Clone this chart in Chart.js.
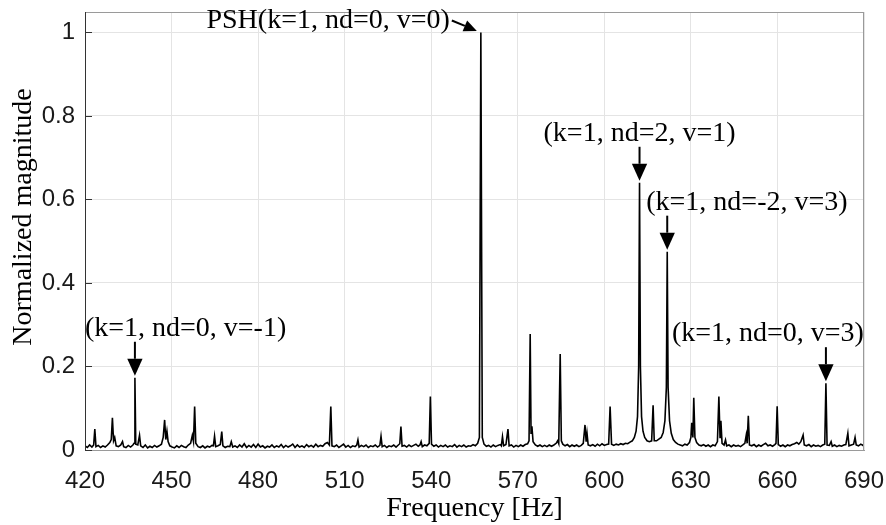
<!DOCTYPE html>
<html>
<head>
<meta charset="utf-8">
<script src="https://cdn.jsdelivr.net/npm/chart.js@4.4.1/dist/chart.umd.min.js"></script>
<style>
  html, body { margin: 0; padding: 0; background: #fff; }
</style>
</head>
<body>
<canvas id="spectrum" width="886" height="525"></canvas>
<script>
// spectrum: [frequency Hz, normalized magnitude]
const spectrum = [
  [420.0,0.010],[420.8,0.006],[421.6,0.012],[422.4,0.007],[423.0,0.012],[423.4,0.050],[423.8,0.008],[424.6,0.011],
  [425.4,0.006],[426.2,0.010],[427.0,0.007],[427.8,0.012],[428.6,0.018],[429.1,0.025],[429.5,0.077],[429.9,0.022],
  [430.3,0.030],[430.8,0.010],[431.6,0.008],[432.4,0.012],[433.0,0.020],[433.4,0.008],[434.2,0.006],[435.0,0.011],
  [435.8,0.007],[436.6,0.012],[437.0,0.016],[437.3,0.173],[437.6,0.014],[438.3,0.012],[438.9,0.035],[439.3,0.010],
  [440.1,0.006],[440.9,0.012],[441.7,0.005],[442.5,0.009],[443.3,0.006],[444.1,0.011],[444.9,0.007],[445.7,0.010],
  [446.5,0.014],[447.1,0.030],[447.6,0.072],[448.0,0.025],[448.4,0.045],[448.8,0.020],[449.4,0.010],[450.2,0.007],
  [451.0,0.005],[451.8,0.010],[452.6,0.006],[453.4,0.011],[454.2,0.008],[455.0,0.006],[455.8,0.012],[456.6,0.016],
  [457.2,0.035],[457.6,0.020],[458.0,0.104],[458.4,0.016],[459.2,0.008],[460.0,0.006],[460.8,0.010],[461.6,0.005],
  [462.4,0.009],[463.2,0.007],[464.0,0.011],[464.5,0.010],[464.9,0.033],[465.3,0.008],[466.1,0.010],[466.9,0.013],
  [467.4,0.044],[467.8,0.010],[468.6,0.006],[469.4,0.009],[470.2,0.008],[470.7,0.020],[471.2,0.007],[472.0,0.010],
  [472.8,0.006],[473.6,0.012],[474.4,0.007],[475.2,0.015],[476.0,0.006],[476.8,0.011],[477.6,0.007],[478.4,0.013],
  [479.2,0.006],[480.0,0.014],[480.8,0.007],[481.6,0.010],[482.4,0.005],[483.2,0.009],[484.0,0.007],[484.8,0.012],
  [485.6,0.006],[486.4,0.010],[487.2,0.007],[488.0,0.013],[488.8,0.006],[489.6,0.011],[490.4,0.007],[491.2,0.010],
  [492.0,0.014],[492.8,0.006],[493.6,0.012],[494.4,0.007],[495.2,0.010],[496.0,0.006],[496.8,0.013],[497.6,0.008],
  [498.4,0.011],[499.2,0.007],[500.0,0.014],[500.8,0.008],[501.6,0.011],[502.4,0.009],[503.2,0.015],[504.0,0.018],
  [504.7,0.012],[505.2,0.104],[505.6,0.010],[506.4,0.008],[507.2,0.012],[508.0,0.006],[508.8,0.010],[509.6,0.014],
  [510.4,0.007],[511.2,0.011],[512.0,0.006],[512.8,0.010],[513.6,0.008],[514.2,0.012],[514.6,0.024],[515.0,0.007],
  [515.8,0.011],[516.6,0.008],[517.4,0.012],[518.2,0.006],[519.0,0.010],[519.8,0.008],[520.6,0.012],[521.4,0.007],
  [522.2,0.011],[522.6,0.033],[523.0,0.008],[523.8,0.011],[524.6,0.006],[525.4,0.010],[526.2,0.008],[527.0,0.012],
  [527.8,0.007],[528.6,0.012],[529.1,0.015],[529.5,0.056],[529.9,0.009],[530.7,0.011],[531.5,0.007],[532.3,0.012],
  [533.1,0.008],[533.9,0.011],[534.7,0.014],[535.5,0.009],[536.1,0.012],[536.5,0.020],[536.9,0.008],[537.7,0.012],
  [538.5,0.010],[539.3,0.016],[539.7,0.128],[540.1,0.014],[540.9,0.009],[541.7,0.012],[542.5,0.007],[543.3,0.011],
  [544.1,0.008],[544.9,0.012],[545.7,0.007],[546.5,0.010],[547.3,0.008],[548.1,0.013],[548.9,0.007],[549.7,0.011],
  [550.5,0.008],[551.3,0.012],[552.1,0.007],[552.9,0.010],[553.7,0.009],[554.5,0.013],[555.3,0.010],[556.1,0.016],
  [556.7,0.030],[557.2,1.000],[557.7,0.030],[558.3,0.014],[559.1,0.009],[559.9,0.011],[560.7,0.007],[561.5,0.012],
  [562.3,0.008],[563.1,0.011],[563.9,0.013],[564.3,0.010],[564.7,0.032],[565.1,0.010],[565.9,0.013],[566.6,0.050],
  [567.0,0.010],[567.8,0.012],[568.6,0.007],[569.4,0.011],[570.2,0.008],[571.0,0.012],[571.8,0.009],[572.6,0.013],
  [573.4,0.015],[573.9,0.022],[574.3,0.278],[574.6,0.040],[574.9,0.057],[575.3,0.020],[576.1,0.012],[576.9,0.009],
  [577.7,0.012],[578.5,0.008],[579.3,0.011],[580.1,0.008],[580.9,0.012],[581.7,0.009],[582.5,0.012],[583.3,0.016],
  [583.8,0.022],[584.2,0.015],[584.7,0.230],[585.1,0.022],[585.6,0.014],[586.4,0.010],[587.2,0.013],[588.0,0.008],
  [588.8,0.012],[589.6,0.009],[590.4,0.012],[591.2,0.008],[592.0,0.011],[592.7,0.016],[593.3,0.060],[593.7,0.020],
  [594.0,0.040],[594.4,0.012],[595.2,0.010],[596.0,0.013],[596.8,0.009],[597.6,0.014],[598.4,0.010],[599.2,0.015],
  [600.0,0.011],[600.8,0.013],[601.5,0.014],[602.0,0.104],[602.5,0.014],[603.3,0.011],[604.1,0.014],[604.9,0.012],
  [605.7,0.015],[606.5,0.013],[607.3,0.016],[608.1,0.015],[608.9,0.019],[609.7,0.022],[610.4,0.030],[611.0,0.045],
  [611.5,0.080],[611.9,0.200],[612.2,0.640],[612.5,0.200],[612.9,0.080],[613.4,0.045],[614.0,0.030],[614.8,0.022],
  [615.6,0.020],[616.4,0.022],[616.9,0.107],[617.3,0.022],[618.1,0.022],[618.9,0.026],[619.7,0.030],[620.4,0.042],
  [621.0,0.070],[621.5,0.150],[621.8,0.475],[622.1,0.150],[622.6,0.070],[623.2,0.040],[623.9,0.025],[624.7,0.018],
  [625.5,0.014],[626.3,0.012],[627.1,0.010],[627.9,0.014],[628.7,0.012],[629.5,0.018],[630.0,0.030],[630.3,0.065],
  [630.7,0.030],[631.0,0.125],[631.4,0.030],[632.0,0.018],[632.8,0.012],[633.6,0.010],[634.4,0.013],[635.2,0.009],
  [636.0,0.012],[636.8,0.008],[637.6,0.012],[638.4,0.010],[639.2,0.020],[639.7,0.128],[640.1,0.030],[640.4,0.070],
  [640.8,0.016],[641.5,0.012],[642.0,0.024],[642.4,0.010],[643.2,0.012],[644.0,0.008],[644.8,0.012],[645.6,0.009],
  [646.4,0.011],[647.2,0.008],[648.0,0.012],[648.7,0.016],[649.2,0.036],[649.5,0.016],[649.9,0.082],[650.3,0.012],
  [651.1,0.010],[651.9,0.013],[652.7,0.008],[653.5,0.012],[654.3,0.009],[655.1,0.013],[655.9,0.016],[656.7,0.010],
  [657.5,0.012],[658.3,0.009],[659.1,0.013],[659.5,0.016],[659.9,0.105],[660.3,0.013],[661.1,0.009],[661.9,0.012],
  [662.7,0.008],[663.5,0.012],[664.3,0.010],[665.1,0.013],[665.9,0.015],[666.7,0.018],[667.4,0.014],[668.1,0.020],
  [668.9,0.036],[669.3,0.012],[670.1,0.010],[670.9,0.013],[671.7,0.008],[672.5,0.012],[673.3,0.009],[674.1,0.011],
  [674.9,0.008],[675.7,0.012],[676.4,0.014],[676.8,0.160],[677.2,0.012],[678.0,0.011],[678.6,0.020],[679.0,0.009],
  [679.8,0.012],[680.6,0.008],[681.4,0.011],[682.2,0.009],[683.0,0.012],[683.7,0.013],[684.4,0.040],[684.8,0.010],
  [685.6,0.012],[686.4,0.014],[686.9,0.030],[687.3,0.012],[688.1,0.010],[688.9,0.014],[689.6,0.011],[690.0,0.015]
];

const xTicks = [420, 450, 480, 510, 540, 570, 600, 630, 660, 690];
const yTicks = [0, 0.2, 0.4, 0.6, 0.8, 1];

// labelled harmonics (peak frequency / peak magnitude)
const noteTexts = ['(k=1, nd=0, v=-1)', '(k=1, nd=2, v=1)', '(k=1, nd=-2, v=3)', '(k=1, nd=0, v=3)'];
const noteFreqs = [437.3, 612.2, 621.8, 676.8];
const noteMags = [0.173, 0.64, 0.475, 0.16];
const pshText = 'PSH(k=1, nd=0, v=0)';
const pshFreq = 557.2;
const pshMag = 1;

const serif = '"Liberation Serif", "Times New Roman", serif';
const sans = '"Liberation Sans", Arial, sans-serif';

// horizontal shift of each label's left edge from its arrow
const noteDx = [-50, -96, -21, -154];

function drawArrow(ctx, x0, y0, x1, y1, head) {
  const a = Math.atan2(y1 - y0, x1 - x0);
  const bx = x1 - head * Math.cos(a), by = y1 - head * Math.sin(a);
  ctx.lineWidth = 2;
  ctx.beginPath();
  ctx.moveTo(x0, y0);
  ctx.lineTo(bx, by);
  ctx.stroke();
  const w = head * 0.45;
  ctx.beginPath();
  ctx.moveTo(x1, y1);
  ctx.lineTo(bx + w * Math.sin(a), by - w * Math.cos(a));
  ctx.lineTo(bx - w * Math.sin(a), by + w * Math.cos(a));
  ctx.closePath();
  ctx.fill();
}

// drop the label-overflow padding chart.js adds, keep the plot box fixed
function noPad(s) {
  s.paddingTop = 0;
  s.paddingBottom = 0;
  s.paddingLeft = 0;
  s.paddingRight = 0;
}

const notesPlugin = {
  id: 'notes',
  afterDraw(chart) {
    const ctx = chart.ctx;
    const xs = chart.scales.x, ys = chart.scales.y;
    const a = chart.chartArea;
    ctx.save();

    // box + inward ticks, matlab style
    ctx.strokeStyle = '#9a9a9a';
    ctx.lineWidth = 1;
    ctx.strokeRect(a.left + 0.5, a.top + 0.5, a.right - a.left - 1, a.bottom - a.top);
    ctx.strokeStyle = '#333';
    ctx.beginPath();
    ctx.moveTo(a.left + 0.5, a.top);
    ctx.lineTo(a.left + 0.5, a.bottom);
    yTicks.forEach(v => {
      const y = Math.round(ys.getPixelForValue(v)) + 0.5;
      ctx.moveTo(a.left, y);
      ctx.lineTo(a.left + 7, y);
    });
    ctx.stroke();

    ctx.fillStyle = '#000';
    ctx.strokeStyle = '#000';
    ctx.font = '28px ' + serif;
    ctx.textBaseline = 'alphabetic';
    ctx.textAlign = 'left';
    noteFreqs.forEach((f, i) => {
      const px = xs.getPixelForValue(f);
      const tip = ys.getPixelForValue(noteMags[i]) - 2;
      const top = tip - 34;
      drawArrow(ctx, px, top, px, tip, 17);
      ctx.fillText(noteTexts[i], px + noteDx[i], top - 6);
    });

    const px = xs.getPixelForValue(pshFreq), py = ys.getPixelForValue(pshMag);
    drawArrow(ctx, px - 29, py - 12, px - 4, py - 1.5, 13);
    ctx.textAlign = 'right';
    ctx.fillText(pshText, px - 31, py - 4.5);
    ctx.restore();
  }
};

new Chart(document.getElementById('spectrum'), {
  type: 'line',
  data: {
    datasets: [{
      data: spectrum.map(p => ({ x: p[0], y: p[1] })),
      borderColor: '#000',
      borderWidth: 1.6,
      pointRadius: 0,
      tension: 0,
      fill: false
    }]
  },
  options: {
    responsive: false,
    animation: false,
    layout: { padding: { top: 12, right: 22, left: 0, bottom: 0 } },
    plugins: {
      legend: { display: false },
      tooltip: { enabled: false }
    },
    scales: {
      x: {
        type: 'linear',
        min: 420,
        max: 690,
        afterBuildTicks: s => { s.ticks = xTicks.map(v => ({ value: v })); },
        afterFit: s => { s.height = 75; noPad(s); },
        grid: { color: '#e4e4e4', drawTicks: false },
        border: { color: '#9a9a9a' },
        ticks: { font: { family: sans, size: 24 }, color: '#1a1a1a', padding: 17, maxRotation: 0, autoSkip: false },
        title: { display: true, text: 'Frequency [Hz]', color: '#000', font: { family: serif, size: 28 }, padding: { top: 0, bottom: 0 } }
      },
      y: {
        min: 0,
        max: 1.049,
        afterBuildTicks: s => { s.ticks = yTicks.map(v => ({ value: v })); },
        afterFit: s => { s.width = 85; noPad(s); },
        grid: { color: '#e4e4e4', drawTicks: false },
        border: { color: '#333' },
        ticks: { font: { family: sans, size: 24 }, color: '#1a1a1a', padding: 10, callback: v => String(v) },
        title: { display: true, text: '    Normalized magnitude', color: '#000', font: { family: serif, size: 28 }, padding: { top: 7, bottom: 0 } }
      }
    }
  },
  plugins: [notesPlugin]
});
</script>
</body>
</html>
